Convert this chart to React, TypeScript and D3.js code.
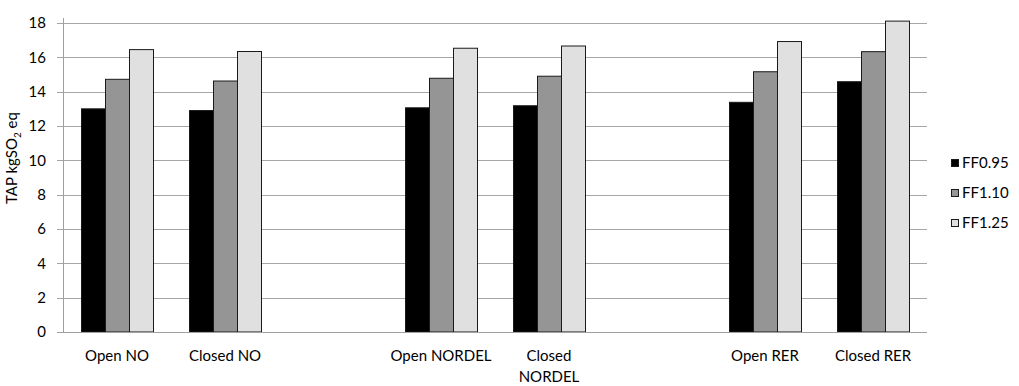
import React, { useEffect, useRef } from "react";
import * as d3 from "d3";

// Category slots along the x axis; empty strings are spacer slots between scenario groups
const categories = ["Open NO", "Closed NO", "", "Open NORDEL", "Closed NORDEL", "", "Open RER", "Closed RER"];
const seriesNames = ["FF0.95", "FF1.10", "FF1.25"];
const ff095 = [13.0, 12.9, null, 13.06, 13.18, null, 13.38, 14.58];
const ff110 = [14.72, 14.62, null, 14.78, 14.9, null, 15.16, 16.33];
const ff125 = [16.45, 16.34, null, 16.53, 16.66, null, 16.92, 18.11];
const yTicks = [0, 2, 4, 6, 8, 10, 12, 14, 16, 18];

const seriesValues = [ff095, ff110, ff125];
const fills = ["#000000", "#959595", "#e0e0e0"];

const W = 1019;
const H = 386;
const FONT = "Lato, 'Open Sans', sans-serif";
const MAX_LABEL_CHARS = 12;

// split a category label into lines no longer than MAX_LABEL_CHARS
function wrapLabel(label: string): string[] {
  const lines: string[] = [];
  let cur = "";
  label.split(" ").forEach((w) => {
    const next = cur ? cur + " " + w : w;
    if (next.length > MAX_LABEL_CHARS && cur) {
      lines.push(cur);
      cur = w;
    } else {
      cur = next;
    }
  });
  if (cur) lines.push(cur);
  return lines;
}

export default function App() {
  const ref = useRef<SVGSVGElement | null>(null);

  useEffect(() => {
    const svg = d3.select(ref.current);
    svg.selectAll("*").remove();

    const left = 63, right = 927, top = 23, bottom = 332;
    const x0 = d3.scaleBand<number>().domain(categories.map((_, i) => i)).range([left, right]);
    const bw = x0.bandwidth();
    const x1 = d3.scaleBand<string>().domain(seriesNames).range([bw / 6, (bw * 5) / 6]);
    const y = d3.scaleLinear().domain([0, 18]).range([bottom, top]);

    // horizontal gridlines with tick marks extending left of the axis
    const grid = svg.append("g");
    yTicks.forEach((t) => {
      grid.append("line")
        .attr("x1", left - 6).attr("x2", right)
        .attr("y1", Math.round(y(t)) + 0.5).attr("y2", Math.round(y(t)) + 0.5)
        .attr("stroke", "#a6a6a6").attr("stroke-width", 1);
      grid.append("text")
        .attr("x", 46).attr("y", y(t))
        .attr("dy", "0.35em").attr("text-anchor", "end")
        .attr("font-family", FONT).attr("font-size", 15).attr("fill", "#000")
        .text(String(t));
    });

    // bars
    const bars = svg.append("g");
    categories.forEach((_, i) => {
      seriesValues.forEach((vals, s) => {
        const v = vals[i];
        if (v == null) return;
        const xx = (x0(i) as number) + (x1(seriesNames[s]) as number);
        bars.append("rect")
          .attr("x", xx + 0.5).attr("y", y(v))
          .attr("width", x1.bandwidth()).attr("height", y(0) - y(v))
          .attr("fill", fills[s]).attr("stroke", "#1a1a1a").attr("stroke-width", 1);
      });
    });

    // axes lines
    svg.append("line")
      .attr("x1", left + 0.5).attr("x2", left + 0.5).attr("y1", top - 5).attr("y2", bottom + 0.5)
      .attr("stroke", "#a0a0a0");
    svg.append("line")
      .attr("x1", left - 6).attr("x2", right).attr("y1", bottom + 0.5).attr("y2", bottom + 0.5)
      .attr("stroke", "#a0a0a0");

    // category labels
    const lab = svg.append("g");
    categories.forEach((c, i) => {
      if (!c) return;
      const cx = (x0(i) as number) + bw / 2;
      const t = lab.append("text")
        .attr("x", cx).attr("y", 361)
        .attr("text-anchor", "middle")
        .attr("font-family", FONT).attr("font-size", 15).attr("fill", "#000");
      wrapLabel(c).forEach((ln, k) => {
        t.append("tspan").attr("x", cx).attr("dy", k === 0 ? 0 : 21).text(ln);
      });
    });

    // y axis title
    const yt = svg.append("text")
      .attr("transform", `translate(17,158) rotate(-90)`)
      .attr("text-anchor", "middle")
      .attr("font-family", FONT).attr("font-size", 15).attr("fill", "#000");
    yt.append("tspan").text("TAP kgSO");
    yt.append("tspan").attr("font-size", 10).attr("dy", 4).text("2");
    yt.append("tspan").attr("dy", -4).text(" eq");

    // legend
    const lg = svg.append("g");
    seriesNames.forEach((n, s) => {
      const cy = 163 + s * 30;
      lg.append("rect")
        .attr("x", 951.5).attr("y", cy - 3.5).attr("width", 7).attr("height", 7)
        .attr("fill", fills[s]).attr("stroke", "#1a1a1a").attr("stroke-width", 1);
      lg.append("text")
        .attr("x", 962).attr("y", cy).attr("dy", "0.35em")
        .attr("font-family", FONT).attr("font-size", 15).attr("fill", "#000")
        .text(n);
    });
  }, []);

  return (
    <svg
      ref={ref}
      width={W}
      height={H}
      style={{ position: "absolute", left: 0, top: 0, background: "#fff" }}
    />
  );
}
